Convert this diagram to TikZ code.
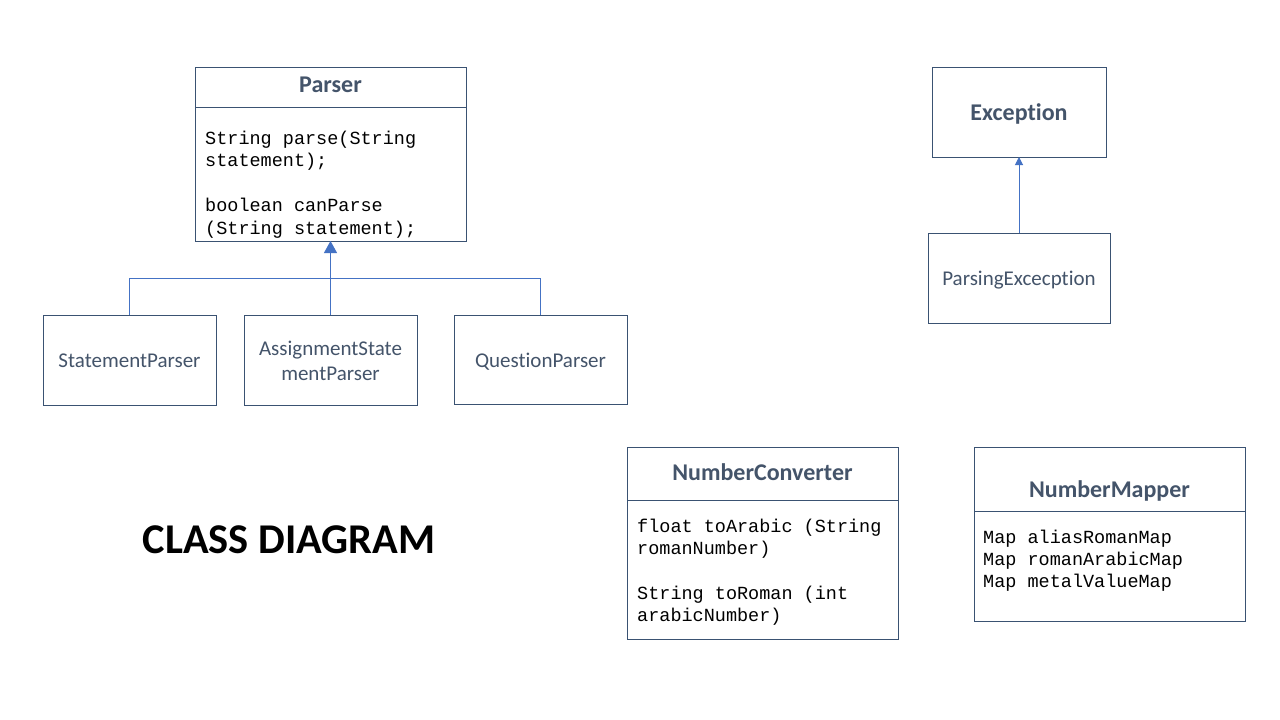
\documentclass[tikz,border=0pt]{standalone}
\usepackage{fontspec}
\setmainfont{Carlito}[Ligatures={NoCommon}]
\newfontfamily\monofont{Liberation Mono}
\usetikzlibrary{arrows.meta}
\definecolor{boxline}{HTML}{3A5272}
\definecolor{txt}{HTML}{44546A}
\definecolor{conn}{HTML}{4472C4}
\begin{document}
\begin{tikzpicture}[x=1pt,y=-1pt,
  classbox/.style={draw=boxline, line width=1pt, inner sep=0pt, outer sep=0pt, rectangle},
  divider/.style={draw=boxline, line width=1pt},
  titletext/.style={text=txt, font=\fontsize{24}{28}\selectfont\bfseries, inner sep=0pt, anchor=base},
  nametext/.style={text=txt, font=\fontsize{21}{25}\selectfont, inner sep=0pt, anchor=base},
  codetext/.style={text=black, font=\fontsize{18.5}{22}\monofont, inner sep=0pt, anchor=base west},
  conn/.style={draw=conn, line width=1pt},
  bigtip/.style={-{Triangle[width=13pt,length=12pt]}},
  smalltip/.style={-{Triangle[width=8pt,length=8pt]}}
]
\fill[white] (0,0) rectangle (1280,720);
\useasboundingbox (0,0) rectangle (1280,720);

% Parser
\node[classbox, minimum width=271pt, minimum height=174pt] (parser) at (330.5,154) {};
\draw[divider] (parser.west |- 0,107) -- (parser.east |- 0,107);
\node[titletext] (parsert) at (330.5,92.5) {Parser};
\node[codetext] (pl1) at (205,144) {String parse(String};
\node[codetext] (pl2) at (205,166.5) {statement);};
\node[codetext] (pl3) at (205,211.5) {boolean canParse};
\node[codetext] (pl4) at (205,234) {(String statement);};

% Children
\node[classbox, minimum width=173pt, minimum height=90pt] (sp) at (129.5,360) {};
\node[nametext] (spt) at (129.5,367) {StatementParser};
\node[classbox, minimum width=173pt, minimum height=90pt] (asp) at (330.5,360) {};
\node[nametext] (aspt1) at (330.5,355) {AssignmentState};
\node[nametext] (aspt2) at (330.5,380.5) {mentParser};
\node[classbox, minimum width=173pt, minimum height=89pt] (qp) at (540.5,359.5) {};
\node[nametext] (qpt) at (540.5,367) {QuestionParser};

\coordinate (jn) at (330.5,278);
\draw[conn] (sp.north) |- (qp.north |- jn) -- (qp.north);
\draw[conn, bigtip] (asp.north) -- (parser.south);

% Exception
\node[classbox, minimum width=174pt, minimum height=90pt] (exc) at (1019,112) {};
\node[titletext] (exct) at (1019,120) {Exception};
\node[classbox, minimum width=182pt, minimum height=90pt] (pexc) at (1019,278) {};
\node[nametext] (pexct) at (1019,285) {ParsingExcecption};
\draw[conn, smalltip] (pexc.north) -- (exc.south);

% NumberConverter
\node[classbox, minimum width=271pt, minimum height=192pt] (nc) at (762.5,543) {};
\draw[divider] (nc.west |- 0,500) -- (nc.east |- 0,500);
\node[titletext] (nct) at (762.5,480) {NumberConverter};
\node[codetext] (nl1) at (637,532) {float toArabic (String};
\node[codetext] (nl2) at (637,554) {romanNumber)};
\node[codetext] (nl3) at (637,599) {String toRoman (int};
\node[codetext] (nl4) at (637,621.5) {arabicNumber)};

% NumberMapper
\node[classbox, minimum width=271pt, minimum height=174pt] (nm) at (1109.5,534) {};
\draw[divider] (nm.west |- 0,511) -- (nm.east |- 0,511);
\node[titletext] (nmt) at (1109.5,497) {NumberMapper};
\node[codetext] (ml1) at (983,543) {Map aliasRomanMap};
\node[codetext] (ml2) at (983,565) {Map romanArabicMap};
\node[codetext] (ml3) at (983,587) {Map metalValueMap};

% Title
\node[text=black, font=\fontsize{42.4}{50}\selectfont\bfseries, inner sep=0pt, anchor=base] (title) at (289,553) {CLASS DIAGRAM};
\end{tikzpicture}
\end{document}
